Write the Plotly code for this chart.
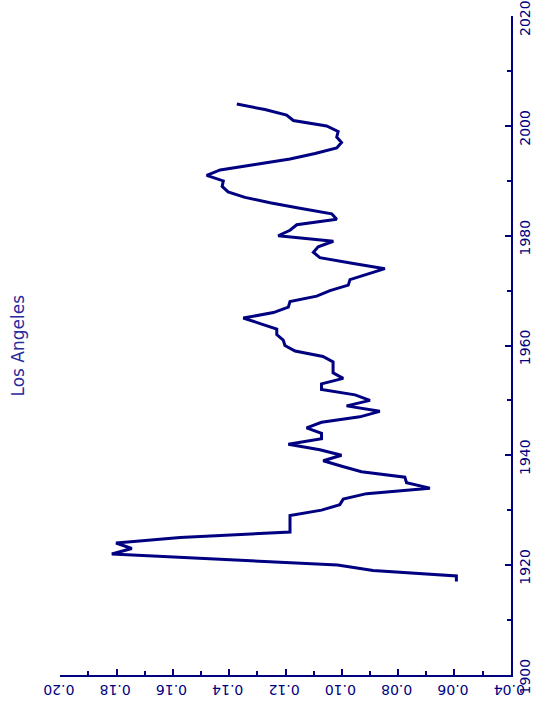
import plotly.graph_objects as go

years = list(range(1917, 2005))
values = [
    0.0593, 0.0593, 0.0889, 0.1015, 0.1415, 0.1817, 0.1746, 0.1802, 0.1574, 0.1184,  # 1917-1926
    0.1184, 0.1184, 0.1184, 0.1072, 0.1007, 0.0995, 0.0912, 0.0687, 0.0770, 0.0776,  # 1927-1936
    0.0930, 0.1000, 0.1066, 0.1001, 0.1078, 0.1190, 0.1072, 0.1072, 0.1125, 0.1072,  # 1937-1946
    0.0936, 0.0865, 0.0983, 0.0900, 0.0953, 0.1072, 0.1072, 0.0995, 0.1031, 0.1031,  # 1947-1956
    0.1031, 0.1067, 0.1166, 0.1202, 0.1208, 0.1231, 0.1231, 0.1290, 0.1350, 0.1243,  # 1957-1966
    0.1190, 0.1184, 0.1089, 0.1042, 0.0977, 0.0971, 0.0911, 0.0847, 0.0964, 0.1078,  # 1967-1976
    0.1101, 0.1084, 0.1030, 0.1226, 0.1184, 0.1160, 0.1018, 0.1036, 0.1149, 0.1255,  # 1977-1986
    0.1344, 0.1404, 0.1425, 0.1421, 0.1480, 0.1432, 0.1308, 0.1184, 0.1095, 0.1018,  # 1987-1996
    0.1001, 0.1018, 0.1013, 0.1054, 0.1172, 0.1196, 0.1273, 0.1373,                  # 1997-2004
]

value_ticks = [0.04, 0.06, 0.08, 0.10, 0.12, 0.14, 0.16, 0.18, 0.20]
value_labels = ["0.04", "0.06", "0.08", "0.10", "0.12", "0.14", "0.16", "0.18", "0.20"]
year_ticks = [1900, 1920, 1940, 1960, 1980, 2000, 2020]
title_text = "Los Angeles"

NAVY = "#000080"
FONT = "DejaVu Sans"

fig = go.Figure()
fig.add_trace(go.Scatter(
    x=values, y=years, mode="lines",
    line=dict(color=NAVY, width=3),
    hoverinfo="skip", showlegend=False,
))

fig.update_layout(
    width=538, height=707,
    margin=dict(l=60, r=27, t=16, b=32, autoexpand=False),
    paper_bgcolor="white", plot_bgcolor="white",
    font=dict(family=FONT, color=NAVY, size=14),
    xaxis=dict(
        range=[0.2001, 0.0399], autorange=False, automargin=False,
        tickvals=value_ticks, ticktext=value_labels, tickangle=180,
        ticks="inside", ticklen=6, tickwidth=1.5, tickcolor=NAVY,
        ticklabelstandoff=5, ticklabelshift=17, ticklabeloverflow="allow",
        minor=dict(dtick=0.01, tick0=0, ticks="inside", ticklen=4, tickwidth=1.5, tickcolor=NAVY, showgrid=False),
        showline=True, linecolor=NAVY, linewidth=2,
        showgrid=False, zeroline=False,
        tickfont=dict(family=FONT, color=NAVY, size=14),
    ),
    yaxis=dict(
        range=[1899.95, 2020.05], autorange=False, side="right", automargin=False,
        tickvals=year_ticks, tickangle=-90, ticklabeloverflow="allow",
        ticklabelshift=4,
        ticks="inside", ticklen=6, tickwidth=1.5, tickcolor=NAVY,
        minor=dict(dtick=10, tick0=1900, ticks="inside", ticklen=4, tickwidth=1.5, tickcolor=NAVY, showgrid=False),
        showline=True, linecolor=NAVY, linewidth=2,
        showgrid=False, zeroline=False,
        tickfont=dict(family=FONT, color=NAVY, size=14),
    ),
    annotations=[dict(
        text=title_text, textangle=-90,
        xref="paper", yref="paper", x=-0.0953, y=0.5,
        xanchor="center", yanchor="middle", showarrow=False,
        font=dict(family=FONT, color="#2a2aa0", size=17),
    )],
)

# remove the default 8px page margin so the figure fills the window exactly
fig.write_html(
    "out.html",
    config={"displayModeBar": False},
    post_script="document.body.style.margin='0';",
)
